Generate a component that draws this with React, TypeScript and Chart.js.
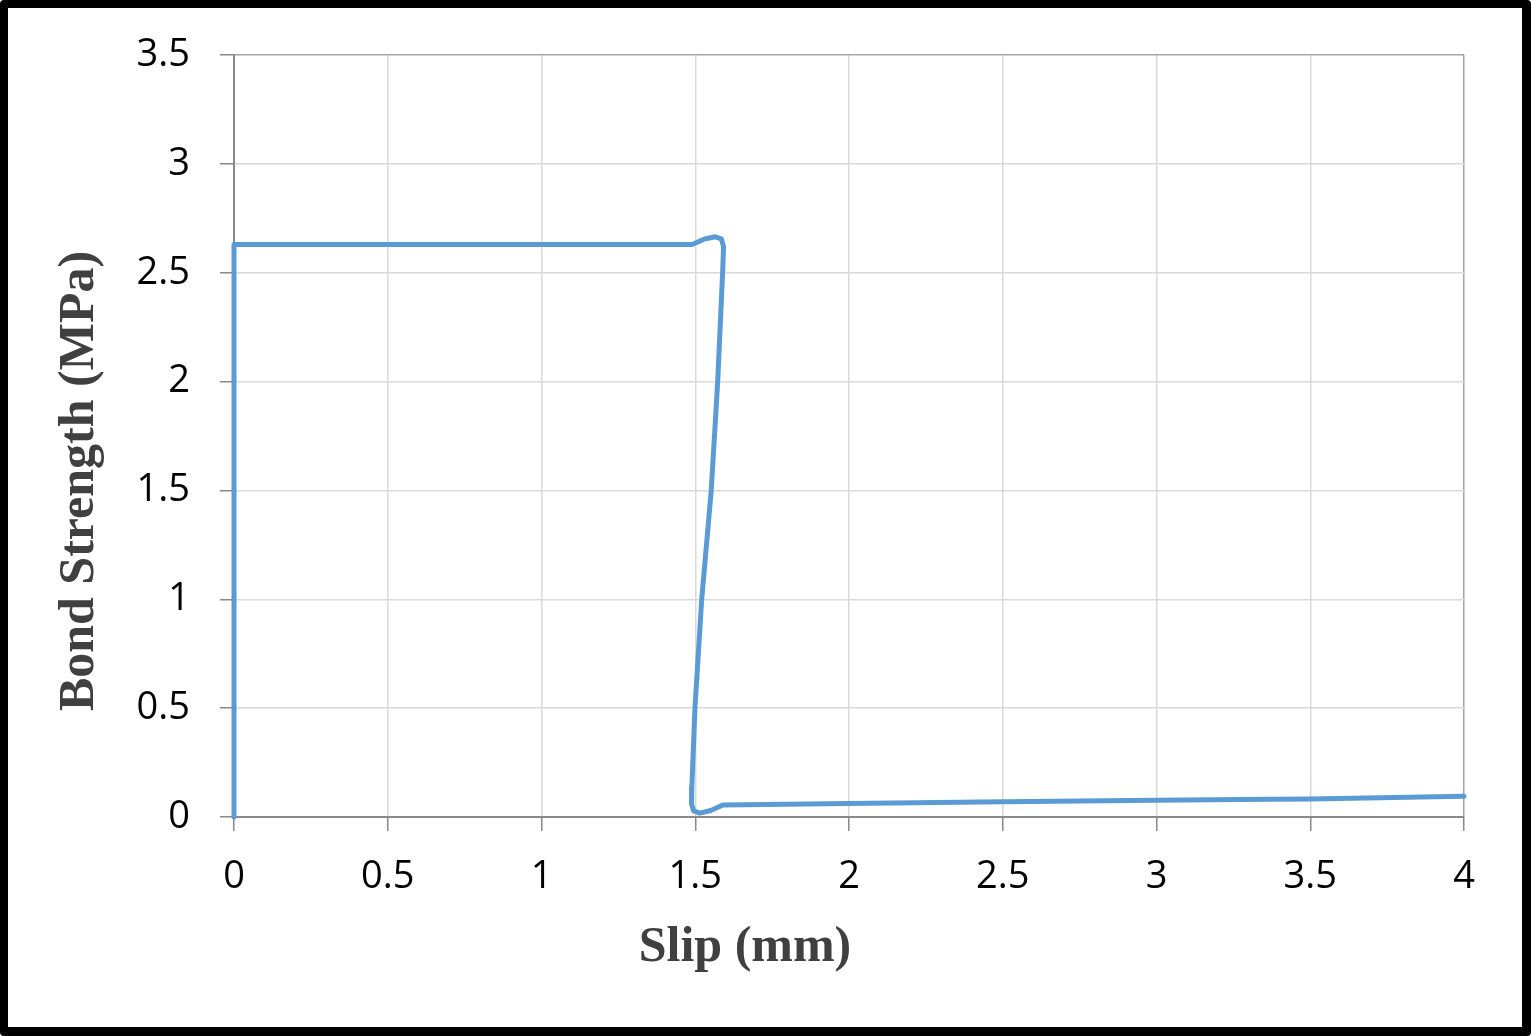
import { useEffect, useRef } from 'react';
import { Chart, registerables } from 'chart.js';

Chart.register(...registerables);

// slip (mm) and bond strength (MPa), in drawing order
const slip = [
  0, 0, 1.49, 1.53, 1.565, 1.585, 1.592, 1.589, 1.573, 1.552, 1.521, 1.499,
  1.489, 1.488, 1.495, 1.515, 1.55, 1.59, 2, 2.5, 3, 3.27, 3.5, 4,
];
const bondStrength = [
  0, 2.63, 2.63, 2.655, 2.665, 2.655, 2.62, 2.5, 2.0, 1.5, 1.0, 0.5,
  0.14, 0.06, 0.028, 0.018, 0.03, 0.055, 0.062, 0.07, 0.077, 0.08, 0.083, 0.095,
];

const xTitle = 'Slip (mm)';
const yTitle = 'Bond Strength (MPa)';

const tickFont = { family: "'Open Sans', 'Noto Sans', sans-serif", size: 38 };
const titleFont = "bold 50px 'Liberation Serif', 'Times New Roman', serif";

const fmt = (v: number | string) => String(Number(v));

// axis titles sit off-centre in the original, so they are placed by hand
const axisTitles = {
  id: 'axisTitles',
  afterDraw(chart: Chart) {
    const { ctx } = chart;
    ctx.save();
    ctx.font = titleFont;
    ctx.fillStyle = '#404040';
    ctx.textAlign = 'center';
    ctx.textBaseline = 'middle';
    ctx.fillText(xTitle, 737, 940);
    ctx.translate(72, 473);
    ctx.rotate(-Math.PI / 2);
    ctx.fillText(yTitle, 0, 0);
    ctx.restore();
  },
};

export default function App() {
  const canvasRef = useRef<HTMLCanvasElement | null>(null);
  const chartRef = useRef<Chart | null>(null);

  useEffect(() => {
    if (!canvasRef.current) return;
    chartRef.current?.destroy();

    const points = slip.map((x, i) => ({ x, y: bondStrength[i] }));

    chartRef.current = new Chart(canvasRef.current, {
      type: 'line',
      data: {
        datasets: [{
          data: points,
          borderColor: '#5B9BD5',
          borderWidth: 5,
          pointRadius: 0,
          tension: 0,
          fill: false,
          clip: false as any,
          borderJoinStyle: 'round',
          borderCapStyle: 'round',
        }],
      },
      options: {
        animation: false,
        responsive: true,
        maintainAspectRatio: false,
        layout: { padding: { top: 47, right: 58, left: 0, bottom: 0 } },
        plugins: { legend: { display: false }, tooltip: { enabled: false } },
        scales: {
          x: {
            type: 'linear',
            min: 0,
            max: 4,
            afterFit: (s: any) => {
              s.height = 210;
              s.paddingLeft = 0;
              s.paddingRight = 0;
            },
            ticks: { stepSize: 0.5, color: '#000', font: tickFont, padding: 23, maxRotation: 0, callback: fmt },
            grid: {
              color: (c: any) => (c.tick && c.tick.value === 4 ? '#a6a6a6' : '#d9d9d9'),
              lineWidth: 1.5,
              tickColor: '#898989',
              tickLength: 14,
            },
            border: { color: '#898989', width: 2 },
          },
          y: {
            min: 0,
            max: 3.5,
            afterFit: (s: any) => {
              s.width = 226;
              s.paddingTop = 0;
              s.paddingBottom = 0;
            },
            ticks: { stepSize: 0.5, color: '#000', font: tickFont, padding: 30, callback: fmt },
            grid: {
              color: (c: any) => (c.tick && c.tick.value === 3.5 ? '#a6a6a6' : '#d9d9d9'),
              lineWidth: 1.5,
              tickColor: '#898989',
              tickLength: 14,
            },
            border: { color: '#898989', width: 2 },
          },
        },
      },
      plugins: [axisTitles],
    });

    return () => {
      chartRef.current?.destroy();
      chartRef.current = null;
    };
  }, []);

  return (
    <div
      style={{
        position: 'fixed',
        left: 0,
        top: 0,
        width: 1531,
        height: 1036,
        boxSizing: 'border-box',
        borderStyle: 'solid',
        borderColor: '#000',
        borderWidth: '8px 9px 9px 8px',
        borderRadius: 4,
        background: '#fff',
      }}
    >
      <div style={{ position: 'relative', width: 1514, height: 1019 }}>
        <canvas ref={canvasRef}></canvas>
      </div>
    </div>
  );
}
